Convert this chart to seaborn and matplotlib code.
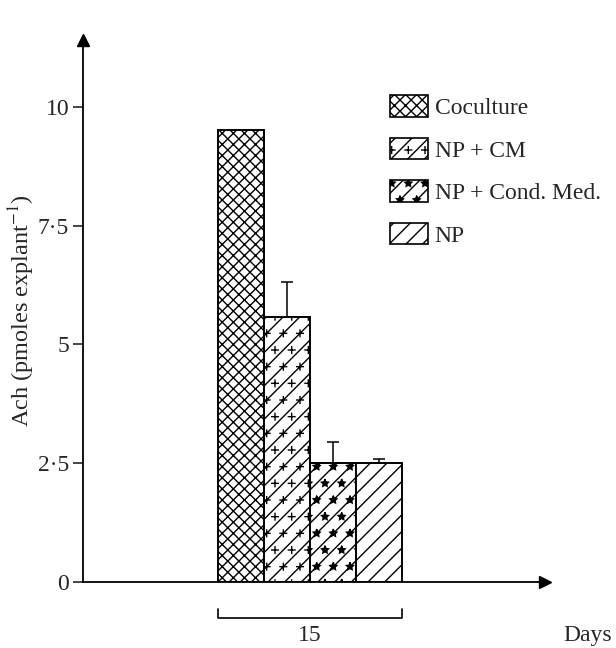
import warnings
import numpy as np
import pandas as pd
import seaborn as sns
import matplotlib.pyplot as plt
import matplotlib.hatch as mhatch
from matplotlib.path import Path
from matplotlib.patches import Patch

warnings.filterwarnings("ignore")

# data
groups = ["Coculture", "NP + CM", "NP + Cond. Med.", "NP"]
ach = [9.52, 5.58, 2.5, 2.5]
err_up = [0.0, 0.74, 0.45, 0.09]
day = ["15", "15", "15", "15"]
hatches = ["xxx", "//p", "//*", "//"]


# small plus-sign hatch (matplotlib has none), triggered by 'p'
class PlusHatch(mhatch.Shapes):
    size = 0.4
    filled = True

    def __init__(self, hatch, density):
        self.num_rows = hatch.count("p") * density
        self.shape_vertices = np.array([[-0.5, 0], [0.5, 0], [0, -0.5], [0, 0.5]])
        self.shape_codes = np.array([Path.MOVETO, Path.LINETO, Path.MOVETO, Path.LINETO],
                                    dtype=Path.code_type)
        super().__init__(hatch, density)


mhatch._hatch_types.append(PlusHatch)
mhatch.Stars.size = 0.22

sns.set_style("white")
plt.rcParams["font.family"] = ["Liberation Serif", "DejaVu Serif"]
plt.rcParams["mathtext.fontset"] = "stix"
plt.rcParams["hatch.linewidth"] = 1.0

fs = 17

df = pd.DataFrame({"day": day, "group": groups, "ach": ach})

fig = plt.figure(figsize=(6.16, 6.48), dpi=100)
ax = fig.add_axes([83 / 616, 66 / 648, 462 / 616, 542 / 648])

sns.barplot(data=df, x="day", y="ach", hue="group", hue_order=groups,
            palette=["white"] * 4, edgecolor="black", linewidth=1.4,
            errorbar=None, width=0.8, legend=False, ax=ax)

bars = ax.patches[:4]
for b, h in zip(bars, hatches):
    b.set_hatch(h)

# upper error bars only
xs = [b.get_x() + b.get_width() / 2 for b in bars]
for x, y, e in zip(xs, ach, err_up):
    if e > 0:
        ax.errorbar(x, y, yerr=[[0], [e]], fmt="none", ecolor="black",
                    elinewidth=1.1, capsize=4, capthick=1.1)

ax.set_xlim(-0.987, 1.02)
ax.set_ylim(0, 11.41)
ax.set_yticks([0, 2.5, 5, 7.5, 10])
ax.set_yticklabels(["0", "2·5", "5", "7·5", "10"], fontsize=fs)
ax.tick_params(axis="y", direction="out", length=7, width=1.2, left=True, pad=3)
ax.set_xticks([])
ax.set_xlabel("")
ax.set_ylabel(r"Ach (pmoles explant$^{-1}$)", fontsize=17.5)
ax.yaxis.set_label_coords(-0.1, 0.5)

for s in ["top", "right"]:
    ax.spines[s].set_visible(False)
for s in ["left", "bottom"]:
    ax.spines[s].set_linewidth(1.3)
    ax.spines[s].set_color("black")

# arrow heads on the axes
ax.plot(1, 0, ">k", markersize=8, transform=ax.transAxes, clip_on=False)
ax.plot(0, 1, "^k", markersize=8, transform=ax.transAxes, clip_on=False)

# bracket under the bars
x0 = bars[0].get_x()
x1 = bars[-1].get_x() + bars[-1].get_width()
tr = ax.get_xaxis_transform()
ax.plot([x0, x0, x1, x1], [-0.05, -0.066, -0.066, -0.05], color="black",
        lw=1.2, transform=tr, clip_on=False)
ax.text((x0 + x1) / 2, -0.08, "15", ha="center", va="top", fontsize=fs,
        transform=tr)
ax.text(1.04, -0.08, "Days", ha="left", va="top", fontsize=fs,
        transform=ax.transAxes)

handles = [Patch(facecolor="white", edgecolor="black", hatch=h, linewidth=1.2)
           for h in hatches]
ax.legend(handles, groups, loc="upper left", bbox_to_anchor=(0.618, 0.937),
          frameon=False, fontsize=fs, handlelength=1.6, handleheight=1.0,
          labelspacing=0.8, handletextpad=0.3)

fig.savefig("out.png", dpi=100)
